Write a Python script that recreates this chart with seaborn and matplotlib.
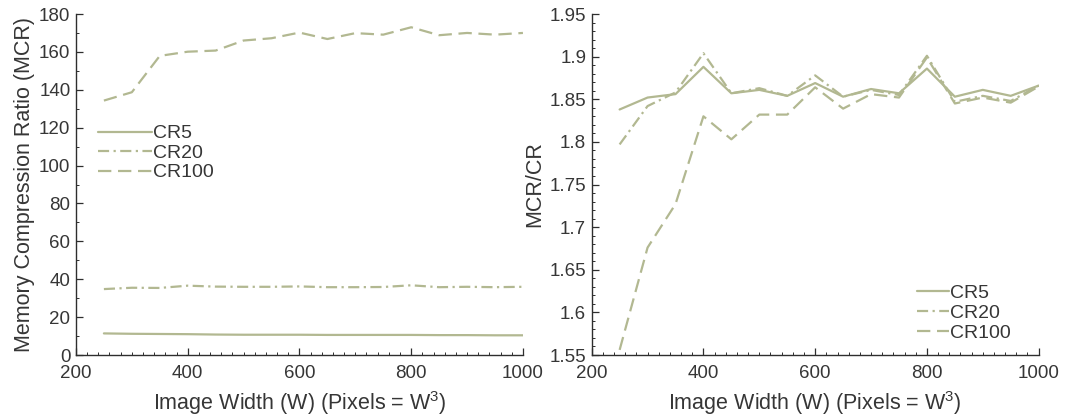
import matplotlib
matplotlib.use("Agg")
import matplotlib.pyplot as plt
from matplotlib.ticker import MultipleLocator, FuncFormatter
import seaborn as sns
import pandas as pd

# Image widths (W) for every run
widths = [250, 300, 350, 400, 450, 500, 550, 600, 650, 700, 750, 800, 850, 900, 950, 1000]

# Memory compression ratio (MCR) per target compression ratio
mcr_cr5 = [11.4, 11.2, 11.1, 11.0, 10.8, 10.7, 10.7, 10.7, 10.6, 10.6, 10.6, 10.6, 10.5, 10.5, 10.4, 10.4]
mcr_cr20 = [34.8, 35.5, 35.4, 36.6, 36.1, 36.0, 36.0, 36.2, 35.8, 35.8, 35.9, 36.8, 35.8, 36.0, 35.8, 36.0]
mcr_cr100 = [134.3, 138.7, 157.9, 160.1, 160.7, 166.0, 167.2, 170.2, 166.8, 169.9, 169.1, 173.0, 168.8, 170.0, 169.1, 170.0]

# MCR divided by the target compression ratio
ratio_cr5 = [1.838, 1.852, 1.856, 1.888, 1.857, 1.861, 1.854, 1.869, 1.853, 1.862, 1.857, 1.886, 1.853, 1.861, 1.854, 1.866]
ratio_cr20 = [1.797, 1.842, 1.858, 1.904, 1.857, 1.863, 1.854, 1.878, 1.853, 1.861, 1.855, 1.901, 1.847, 1.854, 1.848, 1.866]
ratio_cr100 = [1.556, 1.676, 1.727, 1.830, 1.803, 1.832, 1.832, 1.864, 1.839, 1.856, 1.852, 1.899, 1.845, 1.852, 1.846, 1.865]

series_names = ["CR5", "CR20", "CR100"]

sns.set_theme(style="white")
plt.rcParams["font.family"] = ["Liberation Sans", "DejaVu Sans"]
plt.rcParams["mathtext.fontset"] = "custom"
plt.rcParams["mathtext.rm"] = "Liberation Sans"
plt.rcParams["mathtext.it"] = "Liberation Sans:italic"

line_color = "#b2b891"
text_color = "#363636"
axis_color = "#2e2e2e"
styles = {
    "CR5": "-",
    "CR20": (0, (5, 2, 1, 2)),
    "CR100": (0, (6, 3)),
}

fig = plt.figure(figsize=(10.76, 4.18), dpi=100)
ax_l = fig.add_axes([0.0706, 0.1507, 0.4154, 0.8158])
ax_r = fig.add_axes([0.5499, 0.1507, 0.4154, 0.8158])


def draw(ax, values):
    for name, vals in zip(series_names, values):
        df = pd.DataFrame({"W": widths, "value": vals})
        sns.lineplot(data=df, x="W", y="value", ax=ax, color=line_color,
                     linestyle=styles[name], linewidth=1.6, label=name,
                     legend=False, clip_on=True)


draw(ax_l, [mcr_cr5, mcr_cr20, mcr_cr100])
draw(ax_r, [ratio_cr5, ratio_cr20, ratio_cr100])

fmt = FuncFormatter(lambda v, p: "%g" % round(v, 4))

for ax in (ax_l, ax_r):
    ax.set_xlim(200, 1000)
    ax.xaxis.set_major_locator(MultipleLocator(200))
    ax.xaxis.set_minor_locator(MultipleLocator(20))
    for side in ("top", "right"):
        ax.spines[side].set_visible(False)
    for side in ("left", "bottom"):
        ax.spines[side].set_color(axis_color)
        ax.spines[side].set_linewidth(1.0)
    ax.tick_params(which="major", direction="in", length=5, width=0.9,
                   color=axis_color, labelsize=13.5, labelcolor=text_color,
                   left=True, bottom=True)
    ax.tick_params(axis="y", which="major", pad=4)
    ax.tick_params(axis="x", which="major", pad=7)
    ax.tick_params(which="minor", direction="in", length=2.5, width=0.7,
                   color=axis_color, left=True, bottom=True)
    ax.set_xlabel(r"Image Width (W) (Pixels = W$^{3}$)", fontsize=15.5,
                  color=text_color, labelpad=5)
    ax.yaxis.set_major_formatter(fmt)
    ax.xaxis.set_major_formatter(fmt)

ax_l.set_ylim(0, 180)
ax_l.yaxis.set_major_locator(MultipleLocator(20))
ax_l.yaxis.set_minor_locator(MultipleLocator(10))
ax_l.set_ylabel("Memory Compression Ratio (MCR)", fontsize=15.5,
                color=text_color, labelpad=3)

ax_r.set_ylim(1.55, 1.95)
ax_r.yaxis.set_major_locator(MultipleLocator(0.05))
ax_r.yaxis.set_minor_locator(MultipleLocator(0.01))
ax_r.set_ylabel("MCR/CR", fontsize=15.5, color=text_color, labelpad=3)

leg_l = ax_l.legend(loc="center left", bbox_to_anchor=(0.049, 0.592),
                    frameon=False, fontsize=14, handlelength=2.8,
                    handletextpad=0.05, labelspacing=0.1, borderpad=0,
                    borderaxespad=0)
leg_r = ax_r.legend(loc="center left", bbox_to_anchor=(0.728, 0.123),
                    frameon=False, fontsize=14, handlelength=1.65,
                    handletextpad=0.05, labelspacing=0.12, borderpad=0,
                    borderaxespad=0)
for leg in (leg_l, leg_r):
    for t in leg.get_texts():
        t.set_color(text_color)

fig.savefig("out.png", dpi=100)
